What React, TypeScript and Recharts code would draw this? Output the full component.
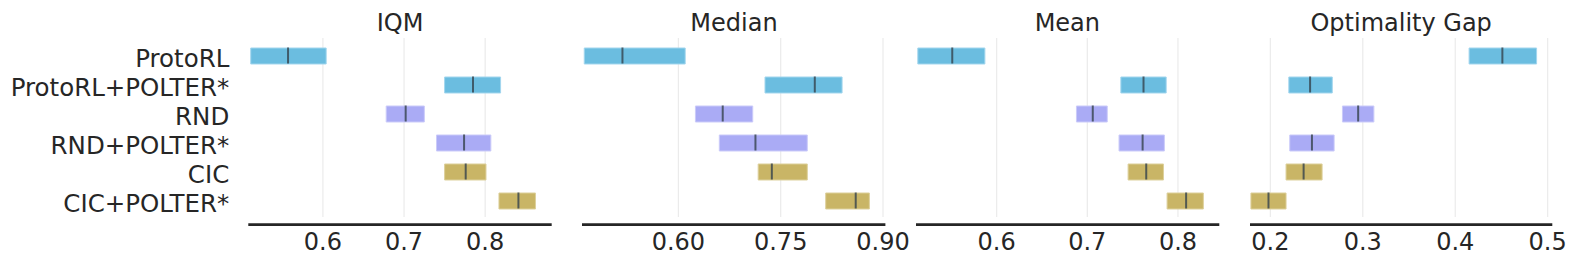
import React from "react";
import { ComposedChart, Bar, Line, XAxis, YAxis, CartesianGrid, Cell } from "recharts";

const algorithms = ["ProtoRL", "ProtoRL+POLTER*", "RND", "RND+POLTER*", "CIC", "CIC+POLTER*"];

// interval estimates: low / point estimate / high
const iqmLow = [0.511, 0.75, 0.678, 0.74, 0.75, 0.817];
const iqmMid = [0.557, 0.785, 0.702, 0.774, 0.776, 0.841];
const iqmHigh = [0.604, 0.819, 0.725, 0.807, 0.801, 0.862];

const medianLow = [0.462, 0.727, 0.625, 0.66, 0.717, 0.816];
const medianMid = [0.518, 0.8, 0.665, 0.713, 0.737, 0.86];
const medianHigh = [0.61, 0.84, 0.709, 0.789, 0.789, 0.88];

const meanLow = [0.513, 0.737, 0.688, 0.735, 0.745, 0.788];
const meanMid = [0.551, 0.762, 0.706, 0.761, 0.765, 0.809];
const meanHigh = [0.587, 0.787, 0.722, 0.785, 0.784, 0.828];

const gapLow = [0.415, 0.22, 0.278, 0.221, 0.217, 0.179];
const gapMid = [0.451, 0.243, 0.295, 0.245, 0.236, 0.198];
const gapHigh = [0.488, 0.267, 0.312, 0.269, 0.256, 0.217];

const iqmTicks = [0.6, 0.7, 0.8];
const medianTicks = [0.6, 0.75, 0.9];
const meanTicks = [0.6, 0.7, 0.8];
const gapTicks = [0.2, 0.3, 0.4, 0.5];

const titles = ["IQM", "Median", "Mean", "Optimality Gap"];

const FONT = "DejaVu Sans";
const TEXT = "#262626";
const fills = ["#6bbde0", "#6bbde0", "#aaabf5", "#aaabf5", "#c9b566", "#c9b566"];
const edges = ["#a3d6ee", "#a3d6ee", "#cbcbf9", "#cbcbf9", "#ddd09c", "#ddd09c"];

const build = (low: number[], mid: number[], high: number[]) =>
  algorithms.map((name, i) => ({ name, range: [low[i], high[i]], mid: mid[i] }));

const panels = [
  { rows: build(iqmLow, iqmMid, iqmHigh), ticks: iqmTicks, domain: [0.508, 0.882], digits: 1, left: 248.3, width: 303.4 },
  { rows: build(medianLow, medianMid, medianHigh), ticks: medianTicks, domain: [0.4587, 0.9035], digits: 2, left: 582.3, width: 303.4 },
  { rows: build(meanLow, meanMid, meanHigh), ticks: meanTicks, domain: [0.511, 0.8456], digits: 1, left: 915.7, width: 303.3 },
  { rows: build(gapLow, gapMid, gapHigh), ticks: gapTicks, domain: [0.178, 0.505], digits: 1, left: 1250, width: 302.3 },
];

const H = 265;
const PLOT_TOP = 38;
const AXIS_Y = 224.7;

const MedianTick = (p: any) => (
  <line
    key={`m-${p.index}`}
    x1={p.cx}
    x2={p.cx}
    y1={p.cy - 8}
    y2={p.cy + 8}
    stroke="#34424c"
    strokeOpacity={0.8}
    strokeWidth={2}
  />
);

export default function App() {
  return (
    <div style={{ position: "absolute", left: 0, top: 0, width: 1578, height: H, background: "#fff", fontFamily: FONT }}>
      {panels.map((p, k) => {
        const first = k === 0;
        const padL = first ? 0 : 10;
        const chartLeft = first ? 0 : p.left - padL;
        const yW = first ? p.left : 0;
        const chartW = (first ? p.left : padL) + p.width + 26;
        return (
          <div key={k} style={{ position: "absolute", left: chartLeft, top: 0 }}>
            <ComposedChart
              layout="vertical"
              width={chartW}
              height={H}
              data={p.rows}
              margin={{ top: PLOT_TOP, right: 26, left: padL, bottom: 0 }}
              style={{ overflow: "visible" }}
            >
              <CartesianGrid
                horizontal={false}
                syncWithTicks
                stroke="#ebebeb"
                strokeWidth={1.2}
                y={PLOT_TOP}
                height={179}
              />
              <XAxis
                type="number"
                domain={p.domain}
                ticks={p.ticks}
                interval={0}
                tickFormatter={(v: number) => v.toFixed(p.digits)}
                axisLine={{ stroke: TEXT, strokeWidth: 2.7 }}
                tickLine={false}
                tickSize={0}
                tickMargin={8}
                height={H - AXIS_Y}
                tick={{ fontSize: 24, fill: TEXT, fontFamily: FONT }}
              />
              <YAxis
                type="category"
                dataKey="name"
                hide={!first}
                width={yW}
                axisLine={false}
                tickLine={false}
                tickSize={0}
                tickMargin={19}
                interval={0}
                padding={{ top: 3, bottom: 9.7 }}
                tick={{ fontSize: 24.5, fill: TEXT, fontFamily: FONT, dy: 3 }}
              />
              <Bar dataKey="range" barSize={16} isAnimationActive={false}>
                {p.rows.map((_, i) => (
                  <Cell key={i} fill={fills[i]} stroke={edges[i]} strokeWidth={1} />
                ))}
              </Bar>
              <Line dataKey="mid" stroke="none" dot={MedianTick} activeDot={false} isAnimationActive={false} />
            </ComposedChart>
          </div>
        );
      })}
      <svg width={1578} height={40} style={{ position: "absolute", left: 0, top: 0 }}>
        {panels.map((p, k) => (
          <text key={k} x={p.left + p.width / 2} y={30.7} textAnchor="middle" fontSize={24} fill={TEXT} fontFamily={FONT}>
            {titles[k]}
          </text>
        ))}
      </svg>
    </div>
  );
}
